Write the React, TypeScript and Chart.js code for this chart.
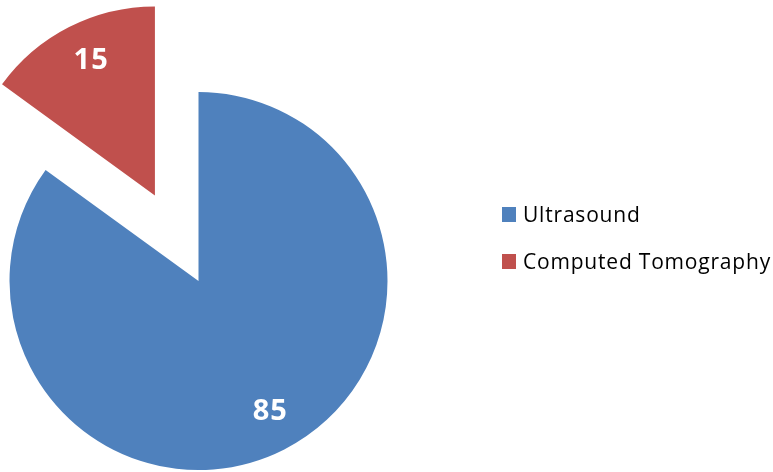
import React, { useEffect, useRef } from "react";
import { Chart, registerables } from "chart.js";

Chart.register(...registerables);

const categories = ["Ultrasound", "Computed Tomography"];
const values = [85, 15];
const colors = ["#4F81BD", "#C0504D"];
const explode = [0, 96];

const explodePlugin = {
  id: "explodeSlices",
  afterDatasetUpdate(chart: any, args: any, opts: any) {
    const dist: number[] = opts.distances || [];
    args.meta.data.forEach((arc: any, i: number) => {
      const d = dist[i] || 0;
      if (!d) return;
      const mid = (arc.startAngle + arc.endAngle) / 2;
      arc.x += Math.cos(mid) * d;
      arc.y += Math.sin(mid) * d;
    });
  },
};

const valueLabelPlugin = {
  id: "valueLabels",
  afterDatasetsDraw(chart: any, _args: any, opts: any) {
    const ctx = chart.ctx;
    const meta = chart.getDatasetMeta(0);
    const data = chart.data.datasets[0].data;
    ctx.save();
    ctx.fillStyle = opts.color;
    ctx.font = opts.font;
    (ctx as any).letterSpacing = opts.letterSpacing;
    ctx.textAlign = "center";
    ctx.textBaseline = "middle";
    meta.data.forEach((arc: any, i: number) => {
      const mid = (arc.startAngle + arc.endAngle) / 2;
      const r = arc.outerRadius * opts.ratio;
      ctx.fillText(
        String(data[i]),
        arc.x + Math.cos(mid) * r + opts.dx,
        arc.y + Math.sin(mid) * r + opts.dy
      );
    });
    ctx.restore();
  },
};

const legendPlugin = {
  id: "sideLegend",
  afterDraw(chart: any, _args: any, opts: any) {
    const ctx = chart.ctx;
    const labels = chart.data.labels;
    const bg = chart.data.datasets[0].backgroundColor;
    ctx.save();
    ctx.font = opts.font;
    (ctx as any).letterSpacing = opts.letterSpacing;
    ctx.textBaseline = "alphabetic";
    ctx.textAlign = "left";
    labels.forEach((lab: string, i: number) => {
      const base = opts.y + i * opts.step;
      ctx.fillStyle = bg[i];
      ctx.fillRect(opts.x, base - opts.boxH, opts.boxW, opts.boxH);
      ctx.fillStyle = opts.color;
      ctx.fillText(lab, opts.x + opts.textGap, base);
    });
    ctx.restore();
  },
};

export default function App() {
  const ref = useRef<HTMLCanvasElement | null>(null);
  useEffect(() => {
    document.body.style.margin = "0";
    if (!ref.current) return;
    const chart = new Chart(ref.current, {
      type: "pie",
      data: {
        labels: categories,
        datasets: [
          {
            data: values,
            backgroundColor: colors,
            borderWidth: 0,
            clip: false as any,
          },
        ],
      },
      plugins: [explodePlugin, valueLabelPlugin, legendPlugin],
      options: {
        responsive: false,
        animation: false,
        events: [],
        radius: 189,
        layout: { padding: { left: 0, right: 376, top: 90, bottom: 0 } },
        plugins: {
          legend: { display: false },
          tooltip: { enabled: false },
          explodeSlices: { distances: explode },
          valueLabels: {
            color: "#ffffff",
            font: "bold 29px 'Open Sans'",
            letterSpacing: "1px",
            ratio: 0.79,
            dx: 4,
            dy: -2,
          },
          sideLegend: {
            x: 502,
            y: 222,
            step: 47,
            boxW: 14,
            boxH: 15,
            textGap: 21,
            font: "21px 'Open Sans'",
            letterSpacing: "0.8px",
            color: "#000000",
          },
        } as any,
      },
    });
    return () => chart.destroy();
  }, []);
  return (
    <div style={{ position: "absolute", left: 0, top: 0, width: 773, height: 472 }}>
      <canvas ref={ref} width={773} height={472} style={{ width: 773, height: 472 }} />
    </div>
  );
}
